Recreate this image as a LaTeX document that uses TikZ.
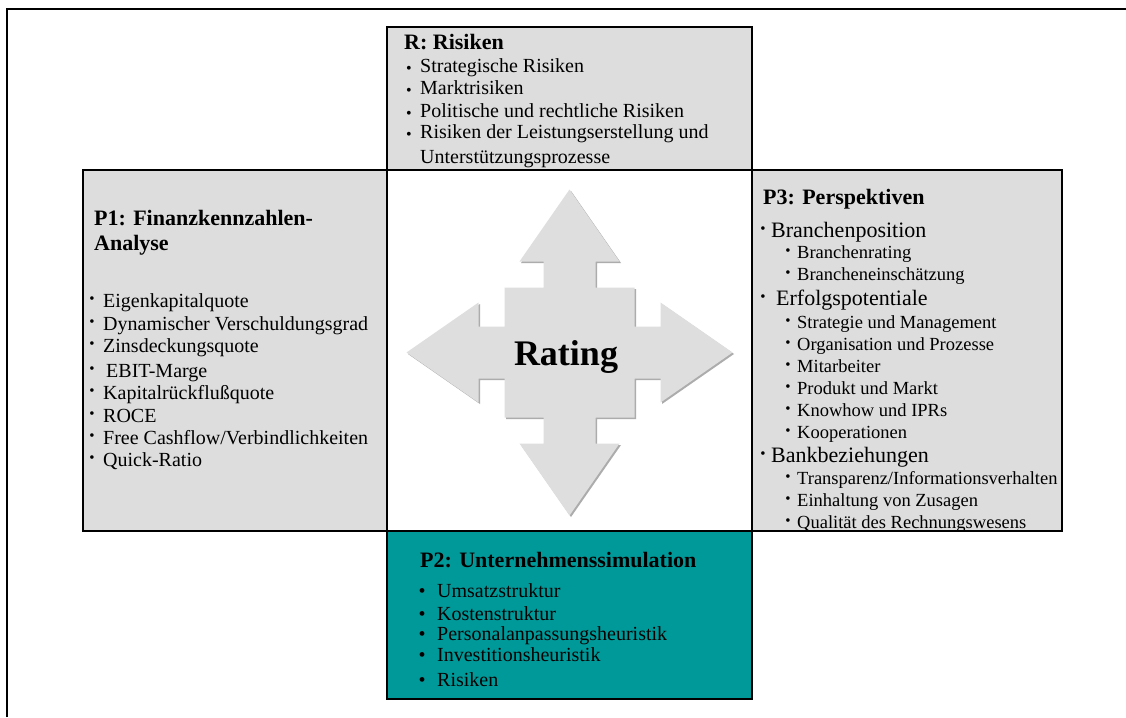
\documentclass[tikz,border=0pt]{standalone}
\usepackage{fontspec}
\setmainfont{Liberation Serif}
\usetikzlibrary{positioning}

\definecolor{panelgray}{RGB}{221,221,221}
\definecolor{crossgray}{RGB}{222,222,222}
\definecolor{simteal}{RGB}{0,153,153}

\newcommand{\lowbul}{\raisebox{-1.5pt}{\fontsize{16}{16}\selectfont\textbullet}}
\newcommand{\highbul}{\raisebox{4pt}{\fontsize{15}{15}\selectfont\textbullet}}

\begin{document}
\begin{tikzpicture}[x=1pt,y=-1pt,
	panel/.style={draw,line width=2.5pt,inner sep=0pt,outer sep=0pt,fill=panelgray},
	txt/.style={anchor=base west,inner sep=0pt,font=\fontsize{20}{20}\selectfont},
	subtxt/.style={txt,font=\fontsize{18.5}{18.5}\selectfont},
	bigtxt/.style={txt,font=\fontsize{22}{22}\selectfont},
	head/.style={txt,font=\fontsize{22}{22}\selectfont\bfseries},
	dot/.style={anchor=base,inner sep=0pt}]
	\useasboundingbox (0,0) rectangle (1126,717);
	% outer frame
	\draw[line width=2.5pt] (7,717) -- (7,9) -- (1126,9);

	% panels
	\node[panel,fill=white,minimum width=365pt,minimum height=361pt] (ctr) at (569.5,350.5) {};
	\node[panel,minimum width=365pt,minimum height=143pt,above=0pt of ctr] (risk) {};
	\node[panel,minimum width=304pt,minimum height=361pt,left=0pt of ctr] (fin) {};
	\node[panel,minimum width=310pt,minimum height=361pt,right=0pt of ctr] (persp) {};
	\node[panel,fill=simteal,minimum width=365pt,minimum height=168pt,below=0pt of ctr] (sim) {};

	% rating cross
	\begin{scope}[shift={(569.5,352.5)}]
		\foreach \off/\col in {1.5/gray!65,0/crossgray}
			\fill[\col,shift={(\off,\off)}] (0,-163) -- (50,-91) -- (26,-91) -- (26,-65) -- (65,-65) -- (65,-26) -- (91,-26) -- (91,-50) -- (163,0) -- (91,50) -- (91,26) -- (65,26) -- (65,65) -- (26,65) -- (26,91) -- (50,91) -- (0,163) -- (-50,91) -- (-26,91) -- (-26,65) -- (-65,65) -- (-65,26) -- (-91,26) -- (-91,50) -- (-163,0) -- (-91,-50) -- (-91,-26) -- (-65,-26) -- (-65,-65) -- (-26,-65) -- (-26,-91) -- (-50,-91) -- cycle;
		\node[font=\fontsize{36}{36}\selectfont\bfseries,anchor=base,inner sep=0pt] (rating) at (-3.5,12.5) {Rating};
	\end{scope}

	% R: Risiken
	\node[head] (risk-h) at (404,50) {R: Risiken};
	\foreach \y/\t [count=\i] in {72/Strategische Risiken,94/Marktrisiken,117/Politische und rechtliche Risiken,138/Risiken der Leistungserstellung und}{
		\node[dot] (risk-b\i) at (409,\y) {\lowbul};
		\node[txt] (risk-\i) at (420,\y) {\t};
	}
	\node[txt] (risk-5) at (420,163) {Unterstützungsprozesse};

	% P1
	\node[head] (fin-h1) at (94,225) {P1: Finanzkennzahlen-};
	\node[head] (fin-h2) at (94,250) {Analyse};
	\foreach \y/\x/\t [count=\i] in {307/103/Eigenkapitalquote,330/103/Dynamischer Verschuldungsgrad,352/103/Zinsdeckungsquote,377/106/EBIT-Marge,399/103/Kapitalrückflußquote,422/103/ROCE,444/103/{Free Cashflow/Verbindlichkeiten},466/103/Quick-Ratio}{
		\node[dot] (fin-b\i) at (92,\y) {\highbul};
		\node[txt] (fin-\i) at (\x,\y) {\t};
	}

	% P3
	\node[head] (persp-h) at (763,204) {P3: Perspektiven};
	\foreach \y/\x/\t [count=\i] in {237/771/Branchenposition,305/776/Erfolgspotentiale,462/771/Bankbeziehungen}{
		\node[dot] (persp-b\i) at (763,\y) {\highbul};
		\node[bigtxt] (persp-\i) at (\x,\y) {\t};
	}
	\foreach \y/\t [count=\i] in {258/Branchenrating,280/Brancheneinschätzung,328/Strategie und Management,350/Organisation und Prozesse,372/Mitarbeiter,394/Produkt und Markt,416/Knowhow und IPRs,438/Kooperationen,484/{Transparenz/Informationsverhalten},506/Einhaltung von Zusagen,528/Qualität des Rechnungswesens}{
		\node[dot] (persp-sb\i) at (788,\y) {\raisebox{-1.5pt}{\highbul}};
		\node[subtxt] (persp-s\i) at (797,\y) {\t};
	}

	% P2
	\node[head] (sim-h) at (420,567) {P2: Unternehmenssimulation};
	\foreach \y/\t [count=\i] in {597/Umsatzstruktur,620/Kostenstruktur,640/Personalanpassungsheuristik,661/Investitionsheuristik,686/Risiken}{
		\node[dot,font=\fontsize{20}{20}\selectfont] (sim-b\i) at (422,\y) {\textbullet};
		\node[txt] (sim-\i) at (437,\y) {\t};
	}
\end{tikzpicture}
\end{document}
